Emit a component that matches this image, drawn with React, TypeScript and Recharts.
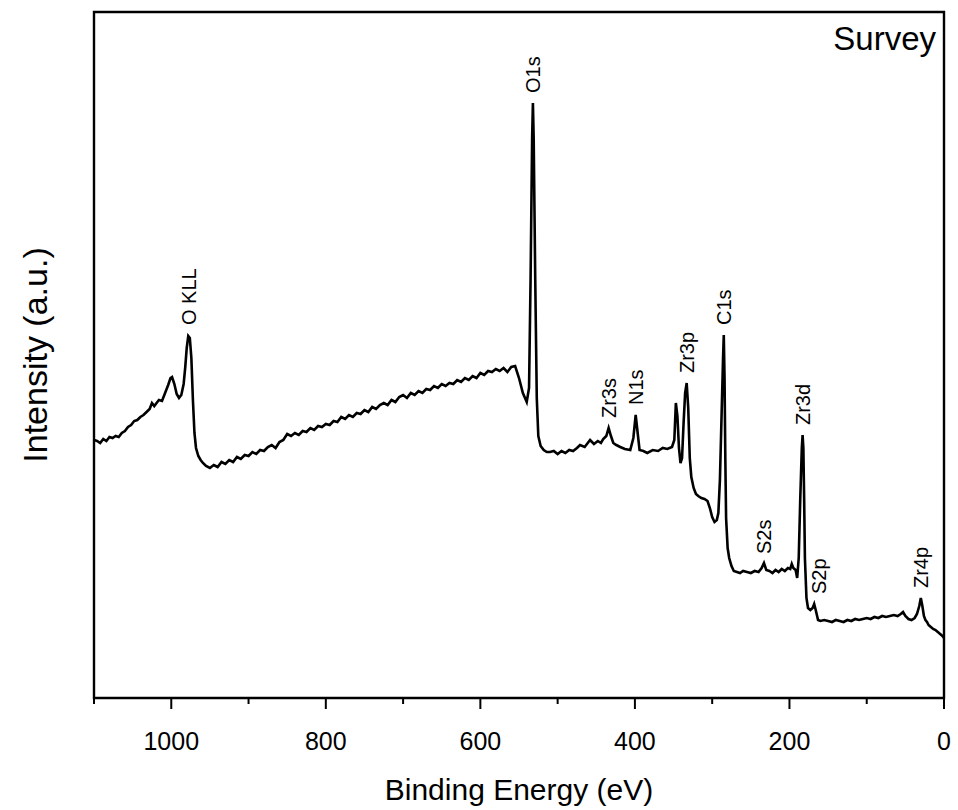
import React from 'react';
import { LineChart, Line, XAxis, YAxis, ReferenceDot, ReferenceArea } from 'recharts';

// binding energy (eV) and intensity (a.u.)
const energy = [
  1100, 1096, 1092, 1088, 1084, 1080, 1076, 1072, 1068, 1064, 1060, 1056, 1052, 1048, 1044, 1040,
  1036, 1032, 1028, 1025, 1022, 1019, 1016, 1012, 1008, 1004, 1001, 999, 996, 993, 990, 987, 984,
  982, 980, 978, 976, 974, 972, 970, 968, 965, 962, 959, 955, 950,
  945, 940, 935, 930, 925, 920, 915, 910, 905, 900, 895, 890, 885, 880, 875, 870, 865, 860, 855,
  850, 845, 840, 835, 830, 825, 820, 815, 810, 805, 800, 795, 790, 785, 780, 775, 770, 765, 760,
  755, 750, 745, 740, 735, 730, 725, 720, 715, 710, 705, 700, 695, 690, 685, 680, 675, 670, 665,
  660, 655, 650, 645, 640, 635, 630, 625, 620, 615, 610, 605, 600, 595, 590, 585, 580, 575, 570,
  565, 560, 555, 550, 545, 540, 537, 535, 533, 532, 531, 529, 527, 525, 522, 518, 514, 510,
  505, 500, 495, 490, 485, 480, 475, 471, 465, 458, 453, 448, 444, 441, 437, 434, 431, 428, 424,
  419, 413, 406, 402, 399, 396, 394, 389, 384, 377, 370, 364, 358, 352, 349, 347, 345, 343, 341,
  339, 337, 335, 333, 331, 329, 327, 324, 321, 318, 314, 310, 306, 303, 300, 297, 294, 292, 290,
  288, 286, 285, 284, 283, 282, 280, 278, 275, 272, 268, 264, 260, 255, 250, 245, 240, 236, 233,
  230, 226, 222, 218, 214, 210, 206, 202, 199, 197, 195, 192, 190, 188, 186, 184, 183, 182, 181,
  180, 178, 176, 173, 170, 168, 166, 163, 160, 155, 150, 145, 140, 135, 130, 125, 120, 115, 110,
  105, 100, 95, 90, 85, 80, 75, 70, 65, 60, 56, 53, 50, 46, 42, 38, 35, 32, 30, 28, 26, 24, 22,
  20, 17, 14, 11, 8, 5, 2, 0,
];

const intensity = [
  258, 257, 255, 259, 257, 261, 260, 262, 261, 265, 267, 271, 273, 277, 278, 281,
  283, 286, 289, 295, 292, 295, 298, 297, 305, 313, 320, 321, 314, 304, 300, 303, 314,
  330, 350, 362, 360, 340, 298, 265, 250, 242, 238, 235, 232, 230,
  233, 231, 236, 234, 238, 236, 241, 239, 243, 242, 246, 244, 248, 247, 251, 253, 250, 256, 258,
  264, 262, 265, 263, 267, 266, 270, 268, 272, 271, 274, 273, 277, 276, 281, 279, 283, 281, 285,
  284, 288, 286, 291, 289, 293, 295, 293, 298, 296, 301, 303, 300, 305, 303, 307, 305, 309, 308,
  312, 310, 314, 312, 315, 314, 318, 316, 320, 318, 322, 320, 325, 323, 327, 326, 329, 327, 330,
  326, 331, 332, 320, 305, 296, 310, 420, 560, 595, 560, 420, 300, 262, 252, 248, 246, 246,
  247, 244, 247, 245, 248, 247, 250, 253, 251, 258, 254, 257, 255, 259, 262, 270, 262, 255, 253,
  251, 249, 248, 260, 283, 262, 248, 247, 245, 248, 247, 250, 249, 251, 258, 295, 282, 250, 235,
  240, 275, 305, 315, 290, 240, 221, 210, 204, 202, 200, 199, 197, 190, 181, 176, 178, 185, 218,
  278, 338, 363, 320, 240, 180, 150, 140, 132, 127, 126, 125, 127, 126, 125, 127, 126, 130, 135,
  128, 127, 125, 128, 126, 129, 127, 130, 129, 134, 130, 128, 120, 140, 200, 250, 263, 250, 200,
  140, 100, 90, 88, 90, 94, 88, 78, 77, 78, 77, 76, 78, 77, 76, 78, 77, 79, 78,
  79, 80, 79, 81, 80, 82, 81, 82, 83, 82, 84, 86, 82, 79, 78, 80, 84, 92, 100, 92, 82, 78, 76,
  73, 71, 69, 68, 66, 64, 62, 60,
];

const xTicks = [0, 100, 200, 300, 400, 500, 600, 700, 800, 900, 1000, 1100];
const labeledTicks = [0, 200, 400, 600, 800, 1000];

// peak assignments: name, energy and intensity at the peak top
const peakNames = ['O KLL', 'O1s', 'Zr3s', 'N1s', 'Zr3p', 'C1s', 'Zr3d', 'S2s', 'S2p', 'Zr4p'];
const peakEnergy = [977, 532, 434, 399, 333, 285, 183, 233, 168, 30];
const peakIntensity = [363, 595, 270, 283, 315, 363, 263, 134, 94, 100];

const data = energy.map((e, i) => ({ e, v: intensity[i] }));

const FONT = '"Liberation Sans", Arial, sans-serif';

const AxisTick = (props: any) => {
  const { x, y, payload } = props;
  const major = labeledTicks.includes(payload.value);
  return (
    <g>
      <line x1={x} x2={x} y1={y} y2={y + (major ? 11 : 6)} stroke="#000" strokeWidth={2} />
      {major && (
        <text x={x} y={y + 52} textAnchor="middle" fontSize={25} fontFamily={FONT} fill="#000">
          {payload.value}
        </text>
      )}
    </g>
  );
};

const peakLabel = (text: string) => (props: any) => {
  const vb = props.viewBox || {};
  const cx = (vb.x ?? 0) + (vb.width ?? 0) / 2 + (text === 'S2p' ? 5 : 0);
  const top = (vb.y ?? 0) - 9;
  const bx = cx + 7;
  return (
    <text
      x={bx}
      y={top}
      transform={`rotate(-90 ${bx} ${top})`}
      textAnchor="start"
      fontSize={20}
      fontFamily={FONT}
      fill="#000"
    >
      {text}
    </text>
  );
};

export default function App() {
  return (
    <div style={{ position: 'absolute', left: 0, top: 0, width: 958, height: 810, background: '#fff' }}>
      <LineChart width={958} height={810} data={data} margin={{ top: 12, right: 14, bottom: 52, left: 94 }}>
        <XAxis
          dataKey="e"
          type="number"
          domain={[0, 1100]}
          reversed
          ticks={xTicks}
          interval={0}
          tickSize={0}
          tickMargin={0}
          tickLine={false}
          tick={<AxisTick />}
          height={60}
          axisLine={{ stroke: '#000', strokeWidth: 2 }}
          allowDataOverflow
        />
        <YAxis type="number" domain={[0, 686]} hide allowDataOverflow />
        <ReferenceArea x1={0} x2={1100} y1={0} y2={686} fill="none" stroke="#000" strokeWidth={2.4} ifOverflow="visible" />
        <Line
          type="linear"
          dataKey="v"
          stroke="#000"
          strokeWidth={2.6}
          dot={false}
          isAnimationActive={false}
        />
        {peakNames.map((n, i) => (
          <ReferenceDot
            key={n}
            x={peakEnergy[i]}
            y={peakIntensity[i]}
            r={1}
            fill="none"
            stroke="none"
            label={peakLabel(n)}
          />
        ))}
      </LineChart>
      <svg width={958} height={810} style={{ position: 'absolute', left: 0, top: 0, pointerEvents: 'none' }}>
        <text x={936} y={50} textAnchor="end" fontSize={33} fontFamily={FONT} fill="#000">
          Survey
        </text>
        <text x={519} y={800} textAnchor="middle" fontSize={30} fontFamily={FONT} fill="#000">
          Binding Energy (eV)
        </text>
        <text x={47} y={355} transform="rotate(-90 47 355)" textAnchor="middle" fontSize={34} fontFamily={FONT} fill="#000">
          Intensity (a.u.)
        </text>
      </svg>
    </div>
  );
}
